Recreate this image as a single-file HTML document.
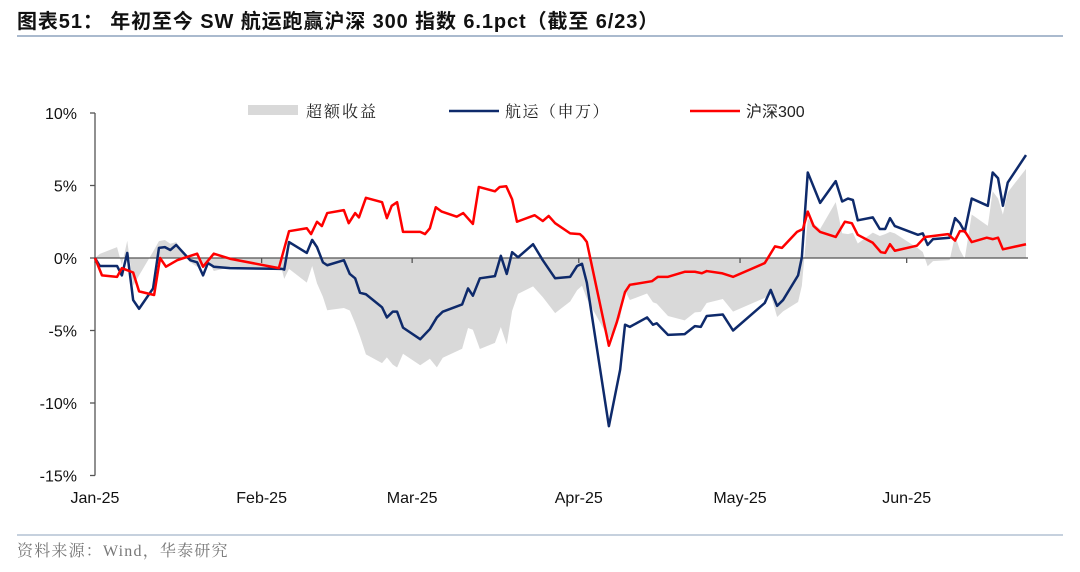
<!DOCTYPE html>
<html><head><meta charset="utf-8"><style>
body{margin:0;background:#fff;width:1080px;height:567px;overflow:hidden;font-family:"Liberation Sans","Noto Sans CJK SC",sans-serif}
svg text{font-family:"Liberation Sans","Noto Sans CJK SC",sans-serif}
svg text.serif{font-family:"Liberation Serif","Noto Serif CJK SC",serif}
</style></head><body>
<svg width="1080" height="567">
<text x="17" y="28" font-size="20" letter-spacing="0.9" font-weight="bold" fill="#111">图表51：  年初至今 SW 航运跑赢沪深 300 指数 6.1pct（截至 6/23）</text>
<line x1="17" y1="36" x2="1063" y2="36" stroke="#8ea3bd" stroke-width="1.5"/>
<g id="plot"></g>
<g>
<rect x="248" y="105" width="50" height="10" fill="#d9d9d9"/>
<text class="serif" x="306" y="117" font-size="16" letter-spacing="2" fill="#222">超额收益</text>
<line x1="449" y1="111" x2="499" y2="111" stroke="#0e2a6b" stroke-width="2.5"/>
<text class="serif" x="505" y="117" font-size="16" letter-spacing="1.5" fill="#222">航运（申万）</text>
<line x1="690" y1="111" x2="740" y2="111" stroke="#ff0000" stroke-width="2.5"/>
<text x="746" y="117" font-size="16" fill="#222">沪深300</text>
</g>
<line x1="17" y1="535" x2="1063" y2="535" stroke="#8ea3bd" stroke-width="1"/>
<text class="serif" x="17" y="556" font-size="16" letter-spacing="1.2" fill="#777">资料来源：Wind，华泰研究</text>
</svg>
<script>
const blueDays=[0,0.9,4.1,5.0,6.0,7.1,8.2,10.8,11.9,13.0,14.0,15.1,17.7,19.0,20.1,21.0,22.1,25.1,34.8,35.2,36.1,39.4,40.4,41.3,42.4,43.2,46.3,47.4,48.4,49.3,50.4,53.4,54.3,55.4,56.2,57.3,60.5,62.3,63.6,64.7,68.3,69.4,70.3,71.6,74.4,75.5,76.6,77.6,78.7,81.5,83.3,85.6,88.4,89.7,90.6,91.5,95.6,97.7,98.6,99.5,102.7,103.8,104.5,106.6,109.7,111.6,112.7,113.8,116.8,118.7,124.6,125.7,126.9,128.0,130.8,131.5,132.6,134.9,137.8,139.0,140.1,141.0,141.9,144.7,146.0,147.0,147.9,148.8,153.1,154.0,154.9,155.9,159.0,160.0,160.9,161.8,163.1,166.1,167.0,168.0,168.9,169.8,173.2];
const blueVals=[0,-0.55,-0.55,-1.2,0.35,-2.9,-3.5,-2.1,0.7,0.75,0.55,0.9,-0.15,-0.3,-1.2,-0.35,-0.6,-0.7,-0.75,-0.8,1.1,0.35,1.25,0.75,-0.3,-0.5,-0.15,-1.1,-1.4,-2.4,-2.5,-3.4,-4.1,-3.7,-3.7,-4.8,-5.6,-4.9,-4.1,-3.7,-3.2,-2.1,-2.6,-1.4,-1.25,0.15,-1.1,0.4,0.05,0.95,-0.15,-1.4,-1.3,-0.55,-0.4,-1.7,-11.6,-7.7,-4.6,-4.75,-4.1,-4.6,-4.5,-5.3,-5.25,-4.7,-4.75,-4.0,-3.9,-5.0,-3.1,-2.2,-3.3,-2.9,-1.2,0.05,5.9,3.8,5.3,3.9,4.1,4.0,2.6,2.8,2.0,2.0,2.75,2.2,1.6,1.7,0.9,1.3,1.4,2.75,2.4,1.8,4.1,3.6,5.9,5.5,3.6,5.2,7.1];
const redDays=[0,1.3,4.1,5.0,7.1,8.2,11.0,12.1,13.2,15.3,19.0,20.1,22.1,25.1,34.2,36.1,39.4,40.2,41.3,42.2,43.2,46.3,47.2,48.4,49.1,50.4,53.4,54.3,55.2,56.2,57.3,60.5,61.4,62.3,63.4,64.5,67.3,68.5,70.3,71.4,74.4,75.3,76.5,77.6,78.5,81.8,83.3,84.4,85.6,88.4,90.2,90.8,91.5,95.6,97.1,98.6,99.5,103.6,104.7,106.6,109.7,111.6,112.9,113.8,116.6,118.7,124.6,126.5,127.8,130.6,131.7,132.6,133.7,134.9,137.8,139.5,140.8,141.9,144.7,146.2,147.0,147.9,148.8,152.9,154.4,158.7,160.0,160.9,161.8,163.1,165.9,167.0,168.0,168.9,173.2];
const redVals=[0,-1.2,-1.3,-0.7,-1.0,-2.3,-2.55,0,-0.6,-0.15,0.3,-0.6,0.3,-0.05,-0.7,1.85,2.05,1.65,2.5,2.2,3.1,3.3,2.4,3.1,2.8,4.15,3.85,2.75,3.6,3.85,1.8,1.8,1.65,2.05,3.5,3.2,2.85,3.1,2.35,4.9,4.6,4.9,4.95,4.05,2.5,2.95,2.55,2.9,2.4,1.7,1.65,1.45,1.1,-6.05,-4.4,-2.35,-1.85,-1.6,-1.3,-1.3,-0.95,-0.95,-1.05,-0.9,-1.05,-1.3,-0.35,0.8,0.7,1.8,2.0,3.2,2.2,1.8,1.45,2.5,2.4,1.6,1.05,0.4,0.35,0.95,0.5,0.85,1.45,1.65,1.2,1.85,1.85,1.1,1.4,1.3,1.4,0.6,0.95];
const yTicks=[10,5,0,-5,-10,-15];
const monthLabels=["Jan-25","Feb-25","Mar-25","Apr-25","May-25","Jun-25"];
const monthDays=[0,31,59,90,120,151];

const NS="http://www.w3.org/2000/svg";
const X0=95,X1=1026,D1=173.2,Y0=258,PPP=14.5;
const xs=d=>X0+(d/D1)*(X1-X0);
const ys=v=>Y0-v*PPP;
function redAt(d){for(let i=1;i<redDays.length;i++){if(d<=redDays[i]){const t=(d-redDays[i-1])/((redDays[i]-redDays[i-1])||1);return redVals[i-1]+t*(redVals[i]-redVals[i-1]);}}return redVals[redVals.length-1];}
const plot=document.getElementById('plot');
function mk(tag,attrs){const e=document.createElementNS(NS,tag);for(const k in attrs)e.setAttribute(k,attrs[k]);plot.appendChild(e);return e;}
let pts=blueDays.map((d,i)=>xs(d)+","+ys(blueVals[i]-redAt(d)));
const area=mk('polygon',{points:xs(0)+","+Y0+" "+pts.join(" ")+" "+xs(D1)+","+Y0,fill:"#d9d9d9"});


const ya=mk('line',{x1:X0,y1:ys(10),x2:X0,y2:ys(-15),stroke:"#555","stroke-width":1.3});


yTicks.forEach(v=>{
 const t=mk('line',{x1:X0-5,y1:ys(v),x2:X0,y2:ys(v),stroke:"#555","stroke-width":1.3});
 
 
 const l=mk('text',{x:X0-18,y:ys(v)+6,"font-size":16,"text-anchor":"end",fill:"#111"});
 l.textContent=v+"%";
 
 
});
const xa=mk('line',{x1:X0,y1:Y0,x2:X1+2,y2:Y0,stroke:"#555","stroke-width":1.3});


monthDays.forEach((d,i)=>{
 const t=mk('line',{x1:xs(d),y1:Y0,x2:xs(d),y2:Y0+5,stroke:"#555","stroke-width":1.3});
 
 
 const l=mk('text',{x:xs(d),y:503,"font-size":16,"text-anchor":"middle",fill:"#111"});
 l.textContent=monthLabels[i];
 
 
});
const blue=mk('polyline',{points:blueDays.map((d,i)=>xs(d)+","+ys(blueVals[i])).join(" "),fill:"none",stroke:"#0e2a6b","stroke-width":2.5,"stroke-linejoin":"round"});


const red=mk('polyline',{points:redDays.map((d,i)=>xs(d)+","+ys(redVals[i])).join(" "),fill:"none",stroke:"#ff0000","stroke-width":2.5,"stroke-linejoin":"round"});


</script>
</body></html>
